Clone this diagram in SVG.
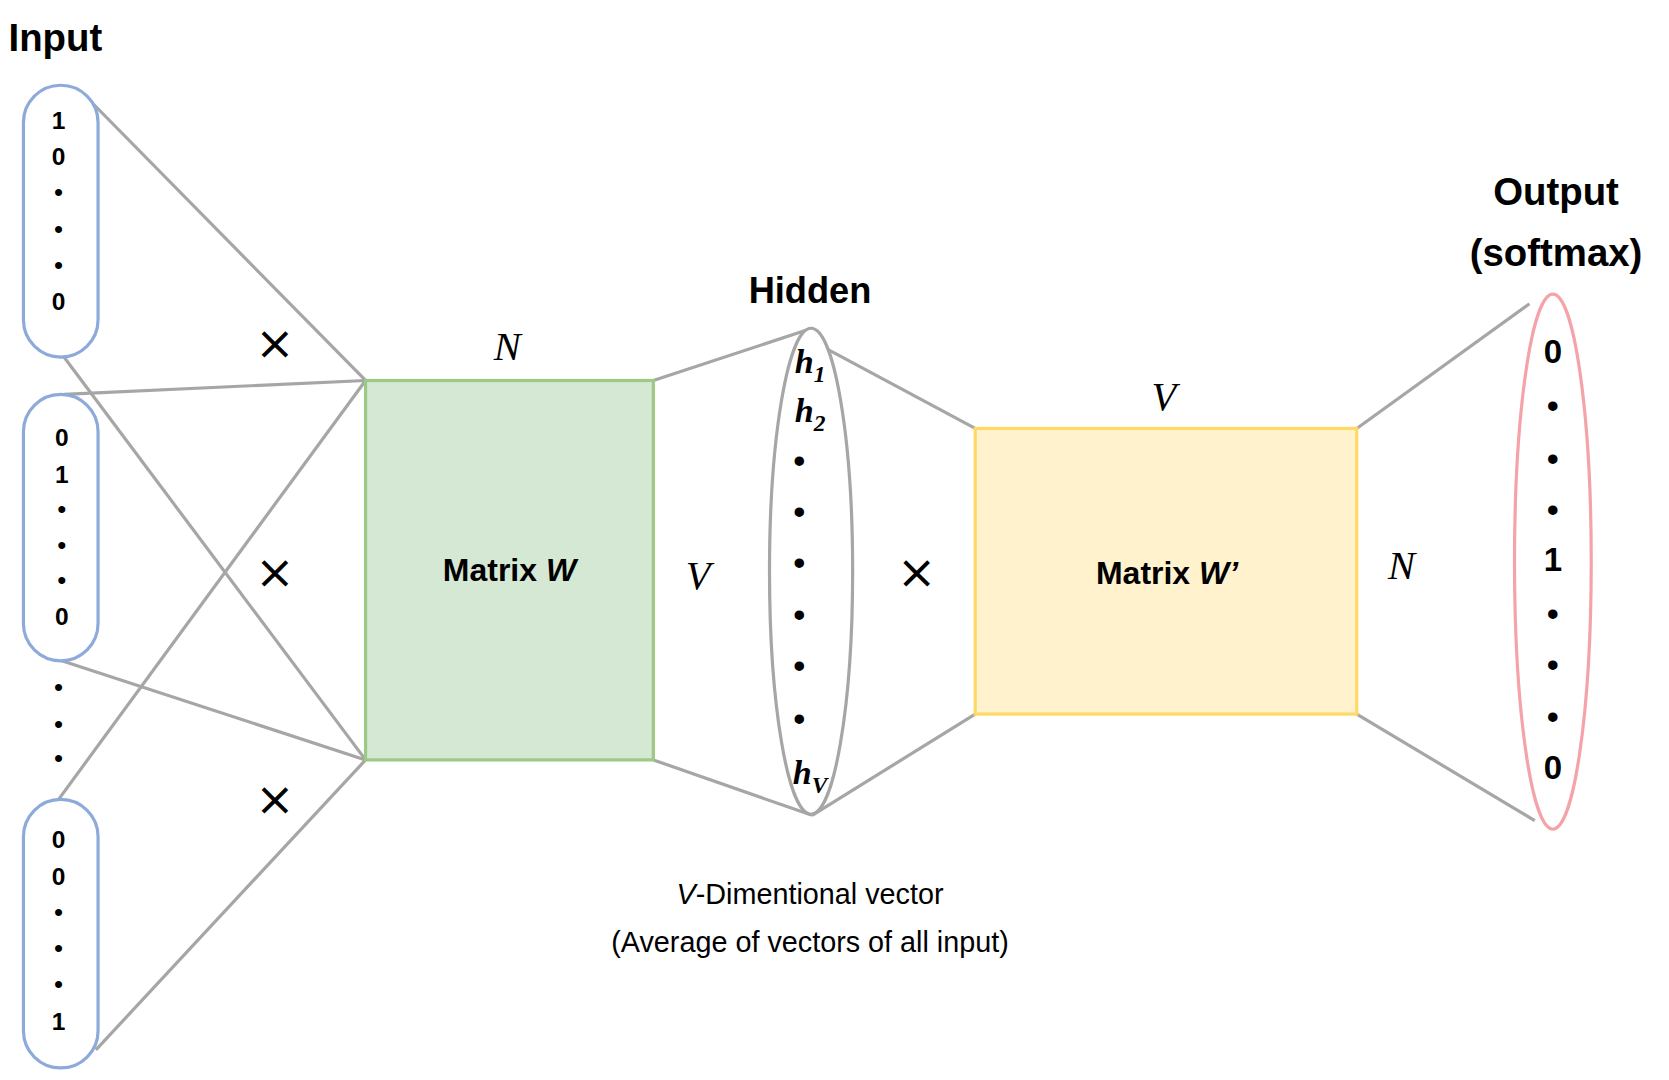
<svg xmlns="http://www.w3.org/2000/svg" width="1669" height="1080" viewBox="0 0 1669 1080">
<style>
.ln{stroke:#a6a6a6;stroke-width:3;fill:none}
.b{font-family:"Liberation Sans",Arial,sans-serif;font-weight:bold;fill:#000}
.v{font-family:"Liberation Sans",Arial,sans-serif;font-weight:bold;font-size:23px;text-anchor:middle}
.o{font-family:"Liberation Sans",Arial,sans-serif;font-weight:bold;font-size:31px;text-anchor:middle}
.m{font-family:"Liberation Serif","Times New Roman",serif;font-style:italic;font-size:38px;text-anchor:middle}
.h{font-family:"Liberation Serif","Times New Roman",serif;font-style:italic;font-weight:bold;font-size:32px;text-anchor:middle}
.x{font-family:"DejaVu Sans",sans-serif;font-size:44px;text-anchor:middle}
.c{font-family:"Liberation Sans",Arial,sans-serif;font-size:27px;text-anchor:middle}
</style>
<rect width="1669" height="1080" fill="#fff"/>
<g transform="scale(1.0658)">
<g id="connectors">
<line class="ln" x1="85" y1="95" x2="343" y2="357"/>
<line class="ln" x1="60" y1="335" x2="343" y2="713"/>
<line class="ln" x1="60" y1="370" x2="343" y2="357"/>
<line class="ln" x1="58" y1="620" x2="343" y2="713"/>
<line class="ln" x1="55" y1="750" x2="343" y2="357"/>
<line class="ln" x1="90" y1="985" x2="343" y2="713"/>
<line class="ln" x1="613" y1="357" x2="762" y2="308"/>
<line class="ln" x1="613" y1="713" x2="762" y2="765"/>
<line class="ln" x1="777" y1="328" x2="915" y2="402"/>
<line class="ln" x1="762" y1="765" x2="915" y2="670"/>
<line class="ln" x1="1273" y1="402" x2="1435" y2="285"/>
<line class="ln" x1="1273" y1="670" x2="1440" y2="770"/>
</g>
<g id="input">
<text class="b" x="8" y="48" font-size="36">Input</text>
<rect x="22" y="80" width="70" height="255" rx="35" fill="#fff" stroke="#8eaadb" stroke-width="3"/>
<g class="v"><text x="55" y="121">1</text><text x="55" y="155">0</text><text x="55" y="189">•</text><text x="55" y="223">•</text><text x="55" y="257">•</text><text x="55" y="291">0</text></g>
</g>
<g id="input2">
<rect x="22" y="370" width="70" height="250" rx="35" fill="#fff" stroke="#8eaadb" stroke-width="3"/>
<g class="v"><text x="58" y="418">0</text><text x="58" y="453">1</text><text x="58" y="486">•</text><text x="58" y="520">•</text><text x="58" y="553">•</text><text x="58" y="586">0</text></g>
</g>
<g id="dots" class="v"><text x="55" y="653">•</text><text x="55" y="688">•</text><text x="55" y="720">•</text></g>
<g id="input3">
<rect x="22" y="750" width="70" height="252" rx="35" fill="#fff" stroke="#8eaadb" stroke-width="3"/>
<g class="v"><text x="55" y="796">0</text><text x="55" y="830">0</text><text x="55" y="864">•</text><text x="55" y="898">•</text><text x="55" y="932">•</text><text x="55" y="966">1</text></g>
</g>
<g id="times" class="x"><text x="258" y="337">×</text><text x="258" y="552">×</text><text x="258" y="765">×</text><text x="860" y="552">×</text></g>
<g id="matrixW">
<rect x="343" y="357" width="270" height="356" fill="#d5e8d4" stroke="#9cc983" stroke-width="3"/>
<text class="b" x="478" y="545" font-size="30" text-anchor="middle">Matrix <tspan font-style="italic">W</tspan></text>
<text class="m" x="476" y="338">N</text>
<text class="m" x="655" y="553">V</text>
</g>
<g id="hidden">
<text class="b" x="760" y="284" font-size="34" text-anchor="middle">Hidden</text>
<ellipse cx="761" cy="536" rx="39" ry="228" fill="#fff" stroke="#a6a6a6" stroke-width="3"/>
<text class="h" x="760" y="350">h<tspan font-size="22" dy="8">1</tspan></text>
<text class="h" x="760" y="396">h<tspan font-size="22" dy="8">2</tspan></text>
<g class="o"><text x="750" y="443">•</text><text x="750" y="491">•</text><text x="750" y="539">•</text><text x="750" y="587">•</text><text x="750" y="635">•</text><text x="750" y="685">•</text></g>
<text class="h" x="760" y="736">h<tspan font-size="22" dy="8">V</tspan></text>
</g>
<g id="matrixW2">
<rect x="915" y="402" width="358" height="268" fill="#fff2cc" stroke="#ffd966" stroke-width="3"/>
<text class="b" x="1095" y="548" font-size="30" text-anchor="middle">Matrix <tspan font-style="italic">W’</tspan></text>
<text class="m" x="1092" y="385">V</text>
<text class="m" x="1315" y="543">N</text>
</g>
<g id="output">
<text class="b" x="1460" y="192" font-size="36" text-anchor="middle">Output</text>
<text class="b" x="1460" y="250" font-size="36" text-anchor="middle">(softmax)</text>
<ellipse cx="1457" cy="527" rx="36" ry="251" fill="#fff" stroke="#f4a3a8" stroke-width="3"/>
<g class="o"><text x="1457" y="341">0</text><text x="1457" y="391">•</text><text x="1457" y="441">•</text><text x="1457" y="489">•</text><text x="1457" y="536">1</text><text x="1457" y="586">•</text><text x="1457" y="634">•</text><text x="1457" y="683">•</text><text x="1457" y="731">0</text></g>
</g>
<g id="caption">
<text class="c" x="760" y="848"><tspan font-style="italic">V</tspan>-Dimentional vector</text>
<text class="c" x="760" y="893">(Average of vectors of all input)</text>
</g>
</g>
</svg>
